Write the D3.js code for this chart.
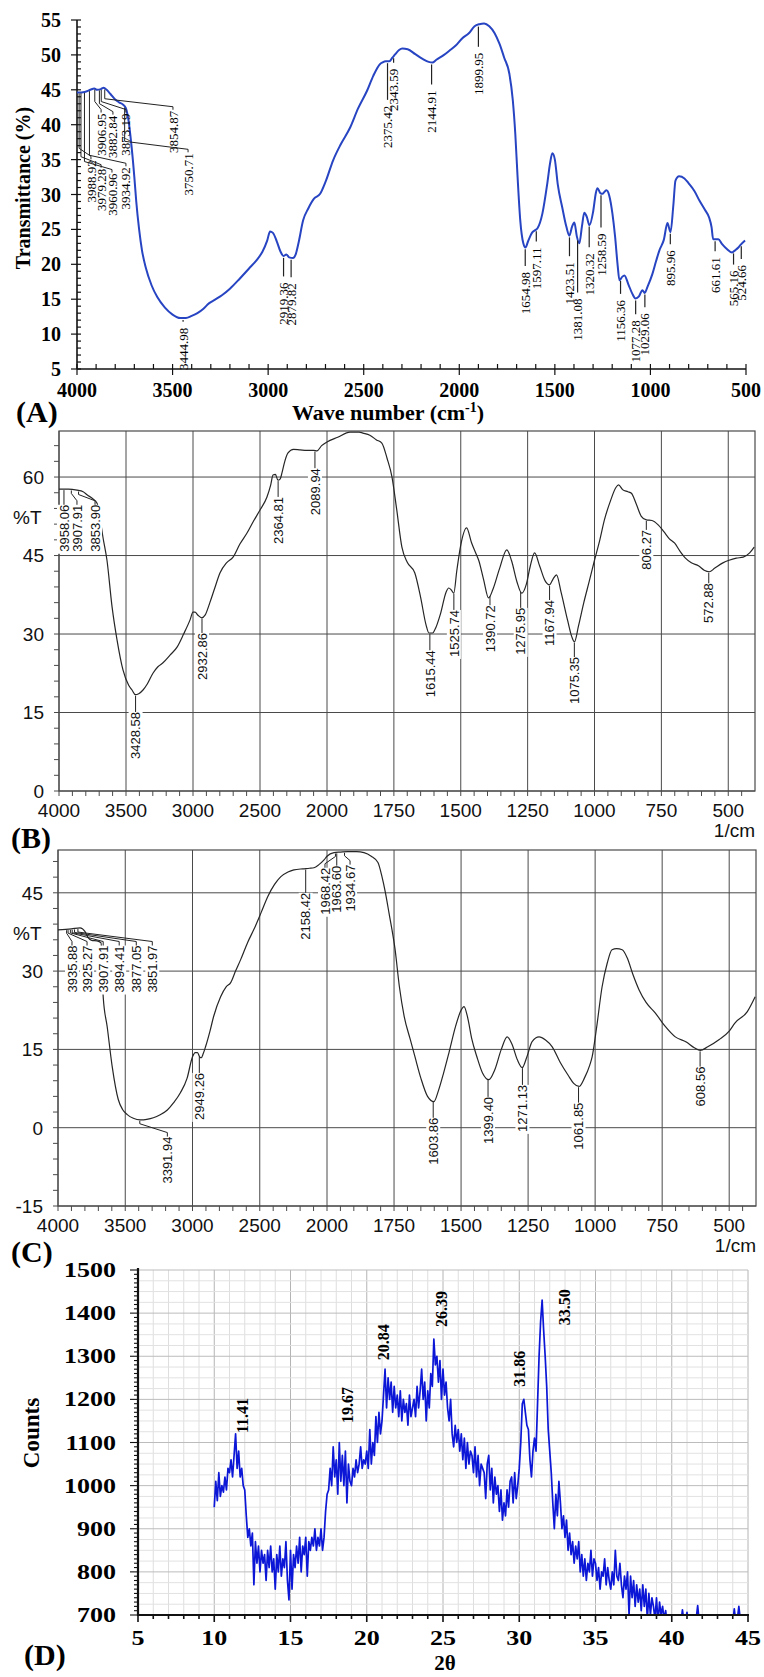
<!DOCTYPE html>
<meta charset="utf-8">
<script src="https://d3js.org/d3.v7.min.js"></script>
<style>
  body { margin: 0; background: #fff; }
</style>
<body>
<script>

// ---------- (A) FTIR, blue curve ----------
var waveA = [4000,3960,3930,3910,3895,3875,3860,3845,3825,3800,3780,3760,3745,3730,3715,3700,3690,3675,3660,3640,3610,3580,3540,3500,3460,3430,3400,3370,3340,3310,3280,3240,3200,3150,3100,3060,3030,3005,2990,2975,2955,2935,2920,2905,2890,2870,2855,2840,2817,2790,2760,2728,2700,2660,2620,2571,2530,2482,2450,2414,2403,2385,2366,2350,2335,2315,2298,2270,2230,2190,2160,2141,2120,2080,2052,2020,1984,1950,1920,1895,1870,1843,1815,1790,1765,1738,1720,1707,1695,1681,1665,1654,1640,1620,1602,1590,1565,1540,1525,1513,1500,1485,1461,1440,1424,1410,1398,1385,1372,1358,1346,1333,1319,1300,1285,1277,1262,1251,1240,1230,1215,1199,1185,1172,1162,1148,1136,1115,1095,1078,1060,1042,1030,1015,990,970,953,930,911,895,880,869,850,822,800,770,743,715,693,680,672,660,645,625,600,573,557,540,531,505];
var transA = [44.6,44.7,45.0,45.2,45.0,45.1,45.3,45.0,44.4,43.6,43.2,42.9,42.4,40.5,37,32.5,29,25,22,19.5,17,15.3,13.8,12.8,12.3,12.3,12.6,13.0,13.6,14.4,14.9,15.6,16.5,17.9,19.4,20.6,21.8,23.4,24.7,24.5,23.3,21.8,21.2,21.4,21.0,20.9,21.5,23.2,26.3,28.0,29.4,30.1,31.8,34.9,37.2,39.6,42.3,44.9,47.0,48.7,48.9,49.1,49.1,49.6,50.1,50.7,50.9,50.8,50.1,49.4,49.0,48.9,49.3,50.0,50.6,51.3,52.4,53.1,54.1,54.4,54.5,54.1,53.1,51.6,49.6,47.3,43.5,38.7,32.5,26.3,23.0,22.4,23.3,24.5,24.9,25.2,27.3,31.5,34.5,35.9,35.0,31.5,28.1,25.4,24.1,25.4,26.0,24.0,23.0,25.5,27.4,26.8,25.6,27.5,30.3,30.9,30.2,30.1,30.4,30.6,29.8,27.3,24.0,20.0,17.7,18.2,18.4,17.1,15.8,15.1,15.4,16.3,15.9,16.8,18.6,20.5,22.0,23.5,25.9,24.6,28.5,32.0,32.6,32.3,31.6,30.5,29.1,27.8,26.7,25.3,23.6,23.6,23.6,22.9,22.2,21.7,22.0,22.4,22.7,23.4];
// peak labels: [wave number, %T level where the label text starts]
var peaksA = [[3444.98,10.9],[2919.36,17.4],[2879.82,17.3],[2375.42,42.7],[2343.59,48.0],[2144.91,44.9],[1899.95,50.3],[1654.98,18.9],[1597.11,22.4],[1423.51,20.3],[1381.08,15.1],[1320.32,21.6],[1258.59,24.4],[1156.36,14.9],[1077.28,12.0],[1029.06,13.0],[895.96,22.0],[661.61,21.0],[565.16,19.1],[524.66,19.9]];
// crowded labels: [wave number, wave where the text sits, %T level of text]
var clusterA = [[3988.92,3927,34.9],[3979.28,3874,33.7],[3960.96,3817,33.0],[3934.92,3744,33.9],[3906.95,3874,41.6],[3882.84,3812,41.3],[3873.19,3744,41.6],[3854.87,3498,42.0],[3750.71,3419,35.9]];

// ---------- (B) FTIR ----------
var waveB = [4000,3930,3866,3820,3791,3750,3716,3690,3672,3642,3604,3567,3522,3480,3455,3430,3405,3373,3340,3299,3260,3224,3170,3119,3070,3022,3000,2985,2963,2935,2910,2873,2840,2798,2750,2701,2650,2597,2550,2500,2448,2420,2403,2385,2366,2350,2336,2315,2291,2250,2201,2150,2100,2075,2040,2000,1960,1914,1880,1866,1840,1815,1795,1775,1757,1740,1720,1700,1672,1650,1630,1619,1605,1597,1575,1555,1545,1535,1526,1515,1500,1478,1460,1440,1433,1415,1396,1380,1355,1328,1310,1290,1272,1255,1240,1224,1205,1185,1168,1155,1142,1125,1100,1085,1075,1060,1040,1020,1000,980,963,940,920,910,895,875,862,845,825,806,785,761,740,720,701,680,660,638,610,590,571,550,520,497,470,444,420,403];
var transB = [57.7,57.7,57.5,57.2,56.6,55.9,55.0,51.5,48.5,44.1,35.2,28.9,23.1,20.2,19.3,18.4,18.6,19.3,20.5,22.5,23.8,24.5,26.0,27.5,30.0,32.7,34.2,34.2,33.6,33.1,33.6,36.1,38.6,41.7,43.6,44.7,47.2,49.3,51.5,53.7,56.2,58.5,60.4,60.5,59.4,59.6,60.8,63.0,64.6,65.3,65.2,65.1,65.1,65.0,66.0,66.7,67.6,68.6,68.6,68.4,68.0,67.1,66.5,63.5,60.0,54.0,46.6,43.7,41.7,37.0,31.8,30.2,30.2,30.8,34.0,38.0,38.8,38.4,37.8,42.0,47.0,50.3,47.5,45.0,44.1,40.5,36.9,38.5,42.5,46.1,44.0,40.0,37.8,39.5,43.0,45.5,43.0,40.2,39.4,40.5,41.3,38.0,32.5,29.5,28.5,31.5,36.0,40.0,44.1,48.0,51.8,55.5,58.0,58.5,57.6,57.2,56.9,55.0,52.5,51.8,51.7,50.8,49.5,48.2,47.4,45.8,44.5,43.6,43.0,42.2,41.9,42.6,43.6,44.1,44.5,44.7,45.5,46.6];
// [wave number, wave where the text sits, %T level of text]
var labelsB = [[3958.06,3963,54.7],[3907.91,3866,54.7],[3853.90,3731,54.7],[3428.58,3428.58,15.1],[2932.86,2932.86,30.2],[2364.81,2364.81,56.2],[2089.94,2089.94,61.7],[1615.44,1615.44,26.9],[1525.74,1525.74,34.6],[1390.72,1390.72,35.5],[1275.95,1275.95,35.0],[1167.94,1167.94,36.5],[1075.35,1075.35,25.6],[806.27,806.27,49.9],[572.88,572.88,39.7]];

// ---------- (C) FTIR ----------
var waveC = [4000,3900,3836,3800,3776,3750,3710,3680,3672,3664,3634,3597,3552,3520,3485,3440,3388,3340,3291,3240,3187,3140,3090,3040,3000,2980,2963,2945,2935,2920,2903,2870,2843,2791,2750,2716,2680,2642,2590,2545,2490,2440,2390,2343,2290,2246,2180,2130,2097,2060,2022,2000,1974,1950,1922,1890,1862,1835,1810,1795,1782,1769,1746,1730,1712,1690,1672,1650,1625,1601,1585,1565,1545,1520,1500,1489,1475,1460,1441,1420,1396,1375,1350,1328,1310,1290,1272,1255,1235,1209,1185,1160,1130,1100,1080,1060,1040,1020,1011,995,974,955,937,920,899,880,860,836,810,776,740,701,660,630,608,580,537,500,478,433,403];
var transC = [37.9,38.1,38.3,37.6,36.4,35.9,35.8,35.4,31.0,25.1,19.3,11.7,5.4,3.5,2.5,1.8,1.5,1.6,1.9,2.5,3.4,4.8,6.7,9.5,13.6,14.4,14.4,13.5,13.4,14.2,15.5,18.5,21.3,25.1,27.0,27.8,30.0,32.2,35.5,37.9,41.2,44.3,46.6,48.1,49.0,49.4,49.6,49.7,49.8,50.4,51.3,52.0,52.7,52.8,52.9,52.9,52.7,52.0,50.8,48.1,45.0,41.2,34.1,27.0,21.3,17.0,13.6,9.5,6.0,5.0,7.0,10.5,14.4,19.5,22.5,23.2,21.0,17.0,13.6,10.5,9.2,11.0,15.0,17.4,16.0,13.0,11.5,13.5,16.5,17.4,16.8,15.5,12.5,10.0,8.5,7.9,9.5,12.0,13.6,19.0,27.0,31.5,34.1,34.3,34.1,32.5,29.5,26.4,24.0,22.0,19.5,17.4,16.4,15.3,14.8,15.5,16.9,18.5,20.1,22.2,25.1];
var labelsC = [[3935.88,3896,34.9],[3925.27,3784,34.9],[3907.91,3664,34.9],[3894.41,3545,34.9],[3877.05,3418,34.9],[3851.97,3299,34.9],[3391.94,3187,-1.7],[2949.26,2949.26,10.5],[2158.42,2158.42,45.0],[1968.42,2015,49.8],[1963.60,1963.60,50.2],[1934.67,1914,50.4],[1603.86,1603.86,1.9],[1399.40,1399.40,5.9],[1271.13,1271.13,8.2],[1061.85,1061.85,4.8],[608.56,608.56,11.7]];

// ---------- (D) XRD, counts every 0.1 deg from 10.0 ----------
var thetaStart = 10, thetaStep = 0.1;
var countsD = [
950,1010,965,1030,975,1000,985,1020,990,1040,
1030,1060,1020,1070,1120,1040,1080,1020,1040,1000,
990,930,880,900,860,890,770,870,820,860,
800,850,820,840,780,850,810,860,800,830,
760,840,800,860,790,830,810,870,780,735,
850,760,840,810,860,820,880,800,860,840,
880,790,870,850,880,860,900,850,880,860,
900,850,880,940,980,990,1040,1000,1090,1020,
1060,980,1100,1010,1070,1000,1080,960,1050,1010,
1000,1040,1020,1060,1030,1050,1090,1040,1060,1050,
1080,1040,1130,1050,1100,1070,1160,1100,1170,1120,
1150,1210,1270,1180,1250,1200,1240,1170,1230,1180,
1210,1160,1220,1150,1200,1170,1190,1140,1210,1160,
1180,1200,1160,1230,1180,1220,1270,1200,1240,1150,
1220,1180,1260,1230,1340,1280,1300,1240,1290,1200,
1270,1210,1240,1180,1150,1200,1120,1090,1140,1100,
1130,1080,1120,1060,1110,1040,1100,1050,1080,1070,
1030,1090,1020,1070,1000,1050,1040,1030,970,1050,
1070,990,1040,960,1020,980,1000,940,990,920,
960,930,990,950,1010,1020,960,1030,970,1000,
1040,1100,1190,1200,1170,1140,1130,1060,1020,1080,
1110,1080,1190,1300,1380,1430,1360,1300,1230,1130,
1080,1030,960,900,980,930,1010,960,900,930,
880,920,850,890,840,870,820,860,830,870,
800,840,790,830,780,820,800,850,790,830,
820,780,810,760,800,790,830,770,810,780,
760,800,770,850,790,780,820,770,740,790,
760,800,700,790,740,780,720,770,730,760,
710,770,720,760,690,750,700,740,720,690,
740,680,730,700,720,690,710,680,700,690,
680,690,680,695,685,690,680,712,685,690,706,
680,688,676,685,680,690,722,684,680,688,
676,684,672,680,686,674,680,670,684,676,
680,672,686,676,680,670,684,676,690,680,
714,684,690,720,688];
var labelsD = [["11.41",11.82,1122],["19.67",18.70,1145],["20.84",21.07,1291],["26.39",24.87,1368],["31.86",29.98,1229],["33.50",32.93,1372]];

// ---------- helpers ----------
var svg = d3.select("body").append("svg")
  .attr("width", 764).attr("height", 1677)
  .style("font-family", "'Liberation Serif', 'Times New Roman', serif");

function interp(ws, ts, w) {
  for (var i = 0; i < ws.length - 1; i++) {
    if (w <= ws[i] && w >= ws[i + 1]) {
      var f = (ws[i] - w) / (ws[i] - ws[i + 1]);
      return ts[i] + f * (ts[i + 1] - ts[i]);
    }
  }
  return ts[ts.length - 1];
}

function drawCurve(g, xs, ys, x, y, color, width, curve) {
  var line = d3.line()
    .x(function(d) { return x(d[0]); })
    .y(function(d) { return y(d[1]); })
    .curve(curve);
  return g.append("path")
    .datum(d3.zip(xs, ys))
    .attr("d", line)
    .attr("fill", "none")
    .attr("stroke", color)
    .attr("stroke-width", width)
    .attr("stroke-linejoin", "round");
}

// ================= (A) =================
var xA = d3.scaleLinear().domain([4000, 500]).range([77, 746]);
var yA = d3.scaleLinear().domain([5, 55]).range([369, 20]);
var gA = svg.append("g");

gA.selectAll(".ty").data(d3.range(5, 56, 1)).enter().append("line")
  .attr("x1", function(d) { return d % 5 === 0 ? 71 : 77; })
  .attr("x2", 81)
  .attr("y1", yA).attr("y2", yA)
  .attr("stroke", "#111").attr("stroke-width", 1.2);
gA.selectAll(".tx").data(d3.range(500, 4001, 100)).enter().append("line")
  .attr("x1", xA).attr("x2", xA)
  .attr("y1", 364)
  .attr("y2", function(d) { return d % 500 === 0 ? 375 : 369; })
  .attr("stroke", "#111").attr("stroke-width", 1.2);
gA.append("line").attr("x1", 77).attr("x2", 77).attr("y1", 20).attr("y2", 369)
  .attr("stroke", "#111").attr("stroke-width", 1.6);
gA.append("line").attr("x1", 77).attr("x2", 746).attr("y1", 369).attr("y2", 369)
  .attr("stroke", "#111").attr("stroke-width", 1.6);

gA.selectAll(".ly").data(d3.range(5, 56, 5)).enter().append("text")
  .attr("x", 61).attr("y", yA).attr("dy", "0.35em")
  .attr("text-anchor", "end")
  .style("font-size", "20px").style("font-weight", "bold")
  .text(function(d) { return d; });
gA.selectAll(".lx").data(d3.range(500, 4001, 500)).enter().append("text")
  .attr("x", xA).attr("y", 397)
  .attr("text-anchor", "middle")
  .style("font-size", "20px").style("font-weight", "bold")
  .text(function(d) { return d; });

gA.append("text")
  .attr("transform", "translate(23,188) rotate(-90)")
  .attr("text-anchor", "middle").attr("dy", "0.35em")
  .style("font-size", "20px").style("font-weight", "bold")
  .text("Transmittance (%)");
var tA = gA.append("text")
  .attr("x", 388).attr("y", 420).attr("text-anchor", "middle")
  .style("font-size", "22px").style("font-weight", "bold");
tA.append("tspan").text("Wave number (cm");
tA.append("tspan").attr("dy", -8).style("font-size", "14px").text("-1");
tA.append("tspan").attr("dy", 8).text(")");
gA.append("text").attr("x", 16).attr("y", 422)
  .style("font-size", "30px").style("font-weight", "bold").text("(A)");

drawCurve(gA, waveA, transA, xA, yA, "#2744c2", 2, d3.curveMonotoneX);

peaksA.forEach(function(p) {
  var x = xA(p[0]), yc = yA(interp(waveA, transA, p[0])), top = yA(p[1]);
  gA.append("line").attr("x1", x).attr("x2", x).attr("y1", yc + 2).attr("y2", top - 6)
    .attr("stroke", "#222").attr("stroke-width", 1.2);
  gA.append("text")
    .attr("transform", "translate(" + x + "," + top + ") rotate(-90)")
    .attr("text-anchor", "end").attr("dy", "0.35em")
    .style("font-size", "13px")
    .text(p[0].toFixed(2));
});
clusterA.forEach(function(p) {
  var xa = xA(p[0]), ya = yA(interp(waveA, transA, p[0])) + 1;
  var xl = xA(p[1]), top = yA(p[2]);
  gA.append("path")
    .attr("d", d3.line()([[xa, ya], [xa, Math.max(ya, top - 12)], [xl, top - 4], [xl, top - 1]]))
    .attr("fill", "none").attr("stroke", "#222").attr("stroke-width", 1);
  gA.append("text")
    .attr("transform", "translate(" + xl + "," + top + ") rotate(-90)")
    .attr("text-anchor", "end").attr("dy", "0.35em")
    .style("font-size", "13px")
    .text(p[0].toFixed(2));
});

// ================= (B) and (C) =================
var xMajorFT = [4000, 3500, 3000, 2500, 2000, 1750, 1500, 1250, 1000, 750, 500];
var xMinorFT = d3.range(2100, 4000, 100).concat(d3.range(450, 2000, 50))
  .filter(function(d) { return xMajorFT.indexOf(d) < 0; });

function ftirPanel(cfg) {
  var g = svg.append("g").style("font-family", "'Liberation Sans', Arial, sans-serif");
  var x = cfg.x, y = cfg.y;
  var xl = x.range()[0], xr = x.range()[2], yb = y.range()[0], yt = y.range()[1];
  var grid = "#4a4a4a";

  g.selectAll(".gx").data(xMajorFT).enter().append("line")
    .attr("x1", x).attr("x2", x).attr("y1", yt).attr("y2", yb + 5)
    .attr("stroke", grid).attr("stroke-width", 1);
  g.selectAll(".gy").data(cfg.yMajor).enter().append("line")
    .attr("x1", xl - 5).attr("x2", xr).attr("y1", y).attr("y2", y)
    .attr("stroke", grid).attr("stroke-width", 1);
  g.selectAll(".mx").data(xMinorFT).enter().append("line")
    .attr("x1", x).attr("x2", x).attr("y1", yb).attr("y2", yb + 5)
    .attr("stroke", grid).attr("stroke-width", 1);
  g.selectAll(".my").data(cfg.yMinor).enter().append("line")
    .attr("x1", xl - 5).attr("x2", xl).attr("y1", y).attr("y2", y)
    .attr("stroke", grid).attr("stroke-width", 1);
  g.append("rect").attr("x", xl).attr("y", yt).attr("width", xr - xl).attr("height", yb - yt)
    .attr("fill", "none").attr("stroke", grid).attr("stroke-width", 1.2);

  g.selectAll(".lx").data(xMajorFT).enter().append("text")
    .attr("x", x).attr("y", yb + 26).attr("text-anchor", "middle")
    .style("font-size", "19px").attr("fill", "#111")
    .text(function(d) { return d; });
  g.selectAll(".ly").data(cfg.yMajor).enter().append("text")
    .attr("x", xl - 15).attr("y", y).attr("dy", "0.36em").attr("text-anchor", "end")
    .style("font-size", "19px").attr("fill", "#111")
    .text(function(d) { return d; });
  g.append("text").attr("x", xr).attr("y", yb + 46).attr("text-anchor", "end")
    .style("font-size", "19px").attr("fill", "#111").text("1/cm");
  g.append("text").attr("x", 13).attr("y", cfg.pctY).attr("dy", "0.36em")
    .style("font-size", "19px").attr("fill", "#111").text("%T");

  drawCurve(g, cfg.waves, cfg.trans, x, y, "#262626", 1.2, d3.curveMonotoneX);

  var gBg = g.append("g"), gTx = g.append("g"), gLd = g.append("g");
  cfg.labels.forEach(function(p) {
    var xa = x(p[0]), ya = y(interp(cfg.waves, cfg.trans, p[0])) + 1;
    var xt = x(p[1]), top = y(p[2]);
    var t = gTx.append("text")
      .attr("transform", "translate(" + xt + "," + top + ") rotate(-90)")
      .attr("text-anchor", "end").attr("dy", "0.36em")
      .style("font-size", "13px").attr("fill", "#111")
      .text(p[0].toFixed(2));
    var len = t.node().getComputedTextLength();
    gBg.append("rect").attr("x", xt - 7).attr("y", top).attr("width", 14).attr("height", len + 2)
      .attr("fill", "#fff");
    var pts = Math.abs(xa - xt) < 1.5 ? [[xt, ya], [xt, top]]
      : [[xa, ya], [xa, ya + 3], [xt, top - 4], [xt, top]];
    gLd.append("path").attr("d", d3.line()(pts))
      .attr("fill", "none").attr("stroke", "#222").attr("stroke-width", 1);
  });

  svg.append("text").attr("x", 11).attr("y", cfg.tagY)
    .style("font-size", "30px").style("font-weight", "bold").text(cfg.tag);
}

ftirPanel({
  x: d3.scaleLinear().domain([4000, 2000, 400]).range([59, 327, 755]),
  y: d3.scaleLinear().domain([0, 68.8]).range([791, 431]),
  yMajor: [0, 15, 30, 45, 60],
  yMinor: [3, 6, 9, 12, 18, 21, 24, 27, 33, 36, 39, 42, 48, 51, 54, 57, 63, 66],
  waves: waveB, trans: transB, labels: labelsB,
  pctY: 517, tag: "(B)", tagY: 848
});
ftirPanel({
  x: d3.scaleLinear().domain([4000, 2000, 400]).range([58, 327, 756]),
  y: d3.scaleLinear().domain([-15, 53.2]).range([1206, 850]),
  yMajor: [-15, 0, 15, 30, 45],
  yMinor: [-12, -9, -6, -3, 3, 6, 9, 12, 18, 21, 24, 27, 33, 36, 39, 42, 48, 51],
  waves: waveC, trans: transC, labels: labelsC,
  pctY: 933, tag: "(C)", tagY: 1262
});

// ================= (D) =================
var xD = d3.scaleLinear().domain([5, 45]).range([138, 748]);
var yD = d3.scaleLinear().domain([700, 1500]).range([1615, 1270]);
var gD = svg.append("g");

gD.selectAll(".gvx").data(d3.range(6, 46, 1)).enter().append("line")
  .attr("x1", xD).attr("x2", xD).attr("y1", 1270).attr("y2", 1615)
  .attr("stroke", function(d) { return d % 5 === 0 ? "#b4b4b4" : "#dedede"; })
  .attr("stroke-width", 1);
gD.selectAll(".gvy").data(d3.range(725, 1501, 25)).enter().append("line")
  .attr("x1", 138).attr("x2", 748).attr("y1", yD).attr("y2", yD)
  .attr("stroke", function(d) { return d % 100 === 0 ? "#bcbcbc" : "#e2e2e2"; })
  .attr("stroke-width", 1);

var thetaD = countsD.map(function(c, i) { return +(thetaStart + i * thetaStep).toFixed(2); });
svg.append("clipPath").attr("id", "clipD").append("rect")
  .attr("x", 138).attr("y", 1262).attr("width", 612).attr("height", 353);
drawCurve(gD, thetaD, countsD, xD, yD, "#0b16d6", 1.7, d3.curveLinear)
  .attr("clip-path", "url(#clipD)");

gD.selectAll(".ty").data(d3.range(700, 1501, 10)).enter().append("line")
  .attr("x1", function(d) { return d % 100 === 0 ? 130 : 134; }).attr("x2", 138)
  .attr("y1", yD).attr("y2", yD)
  .attr("stroke", "#111").attr("stroke-width", 1.1);
gD.selectAll(".tx").data(d3.range(5, 46, 1)).enter().append("line")
  .attr("x1", xD).attr("x2", xD).attr("y1", 1615)
  .attr("y2", function(d) { return d % 5 === 0 ? 1622 : 1619; })
  .attr("stroke", "#111").attr("stroke-width", 1.6);
gD.append("line").attr("x1", 138).attr("x2", 138).attr("y1", 1268).attr("y2", 1616)
  .attr("stroke", "#111").attr("stroke-width", 2.2);
gD.append("line").attr("x1", 137).attr("x2", 749).attr("y1", 1615).attr("y2", 1615)
  .attr("stroke", "#111").attr("stroke-width", 2.2);

gD.selectAll(".ly").data(d3.range(700, 1501, 100)).enter().append("text")
  .attr("transform", function(d) { return "translate(116," + yD(d) + ") scale(1.3,1)"; })
  .attr("dy", "0.35em").attr("text-anchor", "end")
  .style("font-size", "20px").style("font-weight", "bold")
  .text(function(d) { return d; });
gD.selectAll(".lx").data(d3.range(5, 46, 5)).enter().append("text")
  .attr("transform", function(d) { return "translate(" + xD(d) + ",1645) scale(1.3,1)"; })
  .attr("text-anchor", "middle")
  .style("font-size", "20px").style("font-weight", "bold")
  .text(function(d) { return d; });

labelsD.forEach(function(p) {
  gD.append("text")
    .attr("transform", "translate(" + xD(p[1]) + "," + yD(p[2]) + ") rotate(-90)")
    .attr("dy", "0.35em")
    .style("font-size", "16px").style("font-weight", "bold")
    .text(p[0]);
});

gD.append("text")
  .attr("transform", "translate(31,1433) rotate(-90)")
  .attr("text-anchor", "middle").attr("dy", "0.35em")
  .style("font-size", "23px").style("font-weight", "bold")
  .text("Counts");
gD.append("text").attr("x", 445).attr("y", 1670).attr("text-anchor", "middle")
  .style("font-size", "21px").style("font-weight", "bold").text("2θ");
gD.append("text").attr("x", 24).attr("y", 1665)
  .style("font-size", "30px").style("font-weight", "bold").text("(D)");

</script>
</body>
